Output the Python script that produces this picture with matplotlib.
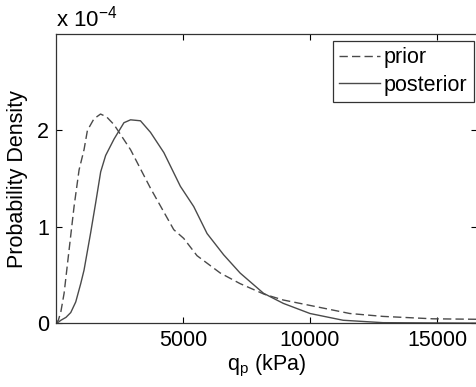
import matplotlib
matplotlib.use('Agg')
from matplotlib import pyplot as plt
import numpy as np

plt.rcParams['font.family'] = ['Liberation Sans', 'DejaVu Sans']
plt.rcParams['mathtext.fontset'] = 'custom'
plt.rcParams['mathtext.rm'] = 'Liberation Sans'

# prior density (dashed), values in units of 1e-4
prior_x = [0, 100, 200, 326, 522, 718, 915, 1110, 1243, 1500, 1760, 2000, 2290,
           2940, 3725, 4640, 5030, 5555, 6470, 7250, 8200, 8950, 10260, 11565,
           12870, 14830, 16600]
prior_y = [0, 0.03, 0.12, 0.31, 0.76, 1.21, 1.59, 1.80, 2.00, 2.12, 2.17, 2.14, 2.06,
           1.80, 1.40, 0.97, 0.88, 0.70, 0.52, 0.41, 0.30, 0.24, 0.17, 0.10,
           0.07, 0.045, 0.04]

# posterior density (solid), values in units of 1e-4
post_x = [0, 100, 200, 400, 588, 784, 980, 1110, 1372, 1569, 1765, 1960, 2290,
          2680, 2940, 3330, 3725, 4250, 4900, 5425, 5950, 6600, 7250, 8170, 8950,
          10000, 11300, 12870, 16600]
post_y = [0, 0.01, 0.03, 0.06, 0.11, 0.22, 0.41, 0.55, 0.94, 1.25, 1.57, 1.74, 1.91,
          2.08, 2.11, 2.10, 1.98, 1.77, 1.42, 1.21, 0.93, 0.71, 0.52, 0.31, 0.205,
          0.10, 0.03, 0.005, 0.0]

xticks = [5000, 10000, 15000]
yticks = [0, 1, 2]

fig = plt.figure(figsize=(4.77, 3.87), dpi=100)
ax = fig.add_axes([0.117, 0.165, 0.882, 0.747])

ax.plot(prior_x, prior_y, '--', color='#4a4a4a', lw=1.0, dashes=(6, 3), label='prior')
ax.plot(post_x, post_y, '-', color='#4a4a4a', lw=1.0, label='posterior')

ax.set_xlim(0, 16550)
ax.set_ylim(0, 3)
ax.set_xticks(xticks)
ax.set_yticks(yticks)
ax.tick_params(direction='in', top=True, right=True, length=4, labelsize=15.5, pad=5)
for s in ax.spines.values():
    s.set_linewidth(0.9)
    s.set_color('#333333')

ax.set_xlabel(r'q$_{\mathregular{p}}$ (kPa)', fontsize=15.5, labelpad=1)
ax.set_ylabel('Probability Density', fontsize=15.5, labelpad=6)
ax.text(0.0, 1.01, r'x 10$^{\mathregular{-4}}$', transform=ax.transAxes,
        fontsize=16, ha='left', va='bottom')

leg = ax.legend(loc='upper right', bbox_to_anchor=(0.993, 0.976), fontsize=15.5,
                handlelength=1.9, handletextpad=0.15, borderaxespad=0.0,
                fancybox=False, framealpha=1, borderpad=0.3, labelspacing=0.3)
leg.get_frame().set_edgecolor('#333333')
leg.get_frame().set_linewidth(0.9)

plt.savefig('out.png', dpi=100)
